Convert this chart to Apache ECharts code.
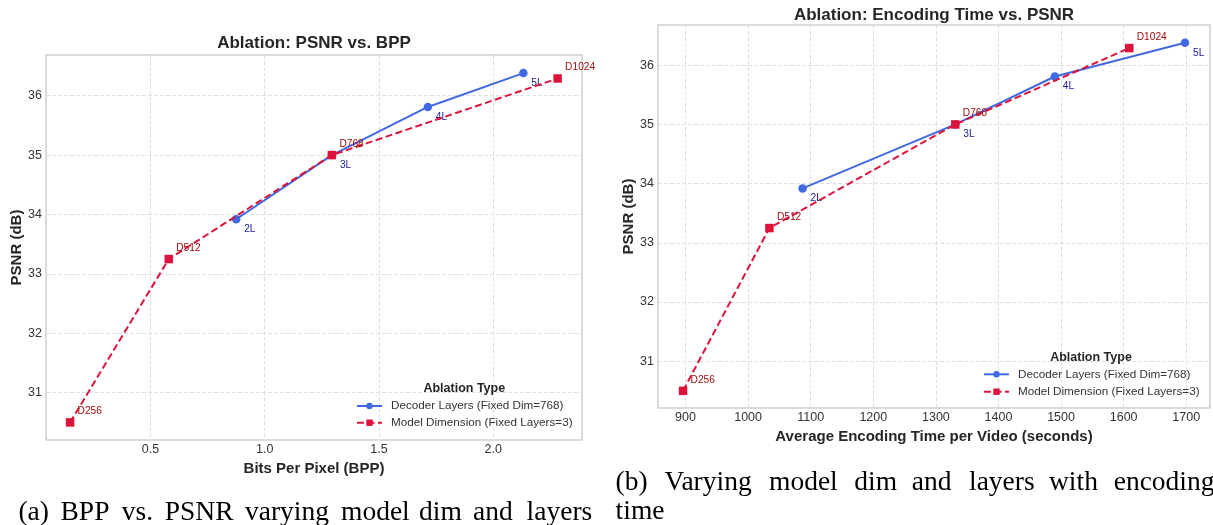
<!DOCTYPE html>
<html>
<head>
<meta charset="utf-8">
<script src="https://cdn.jsdelivr.net/npm/echarts@6/dist/echarts.min.js"></script>
<style>
html,body{margin:0;padding:0;background:#fff;}
#chart{width:1213px;height:525px;}
</style>
</head>
<body>
<div id="chart"></div>
<script>
// ---- data ----
const decoderLabels = ['2L', '3L', '4L', '5L'];
const dimLabels = ['D256', 'D512', 'D768', 'D1024'];
const bppDecoder = [0.875, 1.294, 1.714, 2.132];
const psnrDecoder = [33.92, 35.00, 35.81, 36.38];
const bppDim = [0.148, 0.580, 1.294, 2.282];
const psnrDim = [30.50, 33.25, 35.00, 36.29];
const timeDecoder = [1087, 1331, 1490, 1698];
const timeDim = [896, 1034, 1331, 1609];
const bppTicks = [0.5, 1.0, 1.5, 2.0];
const timeTicks = [900, 1000, 1100, 1200, 1300, 1400, 1500, 1600, 1700];
const psnrTicks = [31, 32, 33, 34, 35, 36];
const seriesNames = ['Decoder Layers (Fixed Dim=768)', 'Model Dimension (Fixed Layers=3)'];

const BLUE = '#4169E1', RED = '#DC143C';
const SANS = 'Liberation Sans, Arial, sans-serif';
const SERIF = 'Liberation Serif, Times New Roman, serif';

function pts(xs, ys, labels) {
  return xs.map((x, i) => ({ value: [x, ys[i]], name: labels[i] }));
}

function xAxisCfg(grid, min, max, ticks, name, gap, fmt) {
  return {
    type: 'value', gridIndex: grid, min: min, max: max,
    name: name, nameLocation: 'middle', nameGap: gap,
    nameTextStyle: { fontFamily: SANS, fontWeight: 'bold', fontSize: 15, color: '#262626' },
    axisLine: { show: false }, axisTick: { show: false, customValues: ticks },
    axisLabel: { customValues: ticks, margin: 3, fontFamily: SANS, fontSize: 12.5, color: '#333', formatter: fmt },
    splitLine: { show: true, lineStyle: { color: '#dcdcdc', type: [4, 2], width: 0.9 } }
  };
}
function yAxisCfg(grid, min, max, gap) {
  return {
    type: 'value', gridIndex: grid, min: min, max: max,
    name: 'PSNR (dB)', nameLocation: 'middle', nameGap: gap, nameRotate: 90,
    nameTextStyle: { fontFamily: SANS, fontWeight: 'bold', fontSize: 15, color: '#262626' },
    axisLine: { show: false }, axisTick: { show: false, customValues: psnrTicks },
    axisLabel: { customValues: psnrTicks, margin: 4, fontFamily: SANS, fontSize: 12.5, color: '#333', formatter: v => String(Math.round(v)) },
    splitLine: { show: true, lineStyle: { color: '#dcdcdc', type: [4, 2], width: 0.9 } }
  };
}
function blueSeries(grid, data) {
  return {
    type: 'line', name: seriesNames[0], xAxisIndex: grid, yAxisIndex: grid, data: data,
    symbol: 'circle', symbolSize: 8.5, z: 2,
    itemStyle: { color: BLUE }, lineStyle: { color: BLUE, width: 2 },
    label: { show: true, position: 'inside', align: 'left', verticalAlign: 'middle', offset: [8, 10],
      formatter: '{b}', fontFamily: SANS, fontSize: 10.2, color: '#1a1a9a' },
    emphasis: { disabled: true }
  };
}
function redSeries(grid, data) {
  return {
    type: 'line', name: seriesNames[1], xAxisIndex: grid, yAxisIndex: grid, data: data,
    symbol: 'rect', symbolSize: 8.5, z: 3,
    itemStyle: { color: RED }, lineStyle: { color: RED, width: 2, type: [7, 3.5] },
    label: { show: true, position: 'inside', align: 'left', verticalAlign: 'middle', offset: [7.5, -11],
      formatter: '{b}', fontFamily: SANS, fontSize: 10.2, color: '#a01010' },
    emphasis: { disabled: true }
  };
}
function legendCfg(left, top, gap) {
  return {
    orient: 'vertical', left: left, top: top, padding: 0, itemGap: gap,
    itemWidth: 25, itemHeight: 8, data: seriesNames, selectedMode: false,
    textStyle: { fontFamily: SANS, fontSize: 11.7, color: '#333', padding: [0, 0, 0, 4], lineHeight: 14 }
  };
}
function titleCfg(text, cx, top, size) {
  return { text: text, left: cx, top: top, textAlign: 'center', padding: 0,
    textStyle: { fontFamily: SANS, fontWeight: 'bold', fontSize: size, color: '#262626' } };
}
function word(x, y, t) {
  return { type: 'text', x: x, y: y, silent: true,
    style: { text: t, fill: '#000', font: '27.5px ' + SERIF, textAlign: 'left', textVerticalAlign: 'middle' } };
}

const chart = echarts.init(document.getElementById('chart'), null, { renderer: 'canvas' });
chart.setOption({
  animation: false,
  backgroundColor: '#fff',
  title: [
    titleCfg('Ablation: PSNR vs. BPP', 314, 35, 17),
    titleCfg('Ablation: Encoding Time vs. PSNR', 934, 6.5, 17),
    titleCfg('Ablation Type', 464.3, 382.5, 12.5),
    titleCfg('Ablation Type', 1091, 351, 12.5)
  ],
  legend: [legendCfg(356, 399, 2.7), legendCfg(983, 367.3, 3.4)],
  grid: [
    { left: 46, top: 55, width: 536, height: 385, show: true, borderColor: '#d0d0d0', borderWidth: 1.5, backgroundColor: '#fff' },
    { left: 658, top: 25, width: 552, height: 383, show: true, borderColor: '#d0d0d0', borderWidth: 1.5, backgroundColor: '#fff' }
  ],
  xAxis: [
    xAxisCfg(0, 0.0427, 2.3887, bppTicks, 'Bits Per Pixel (BPP)', 18, v => v.toFixed(1)),
    xAxisCfg(1, 856, 1738, timeTicks, 'Average Encoding Time per Video (seconds)', 19, v => String(Math.round(v)))
  ],
  yAxis: [
    yAxisCfg(0, 30.204, 36.685, 22),
    yAxisCfg(1, 30.21, 36.68, 22)
  ],
  series: [
    blueSeries(0, pts(bppDecoder, psnrDecoder, decoderLabels)),
    redSeries(0, pts(bppDim, psnrDim, dimLabels)),
    blueSeries(1, pts(timeDecoder, psnrDecoder, decoderLabels)),
    redSeries(1, pts(timeDim, psnrDim, dimLabels))
  ],
  graphic: [
    word(18.4, 513, '(a)'), word(60.5, 513, 'BPP'), word(121.8, 513, 'vs.'), word(164.7, 513, 'PSNR'),
    word(245, 513, 'varying'), word(341, 513, 'model'), word(419, 513, 'dim'), word(473, 513, 'and'),
    word(526.6, 513, 'layers'),
    word(615.6, 483, '(b)'), word(664.6, 483, 'Varying'), word(769, 483, 'model'), word(854.3, 483, 'dim'),
    word(911.8, 483, 'and'), word(969, 483, 'layers'), word(1049, 483, 'with'), word(1113.7, 483, 'encoding'),
    word(615.6, 512, 'time')
  ]
});
</script>
</body>
</html>
